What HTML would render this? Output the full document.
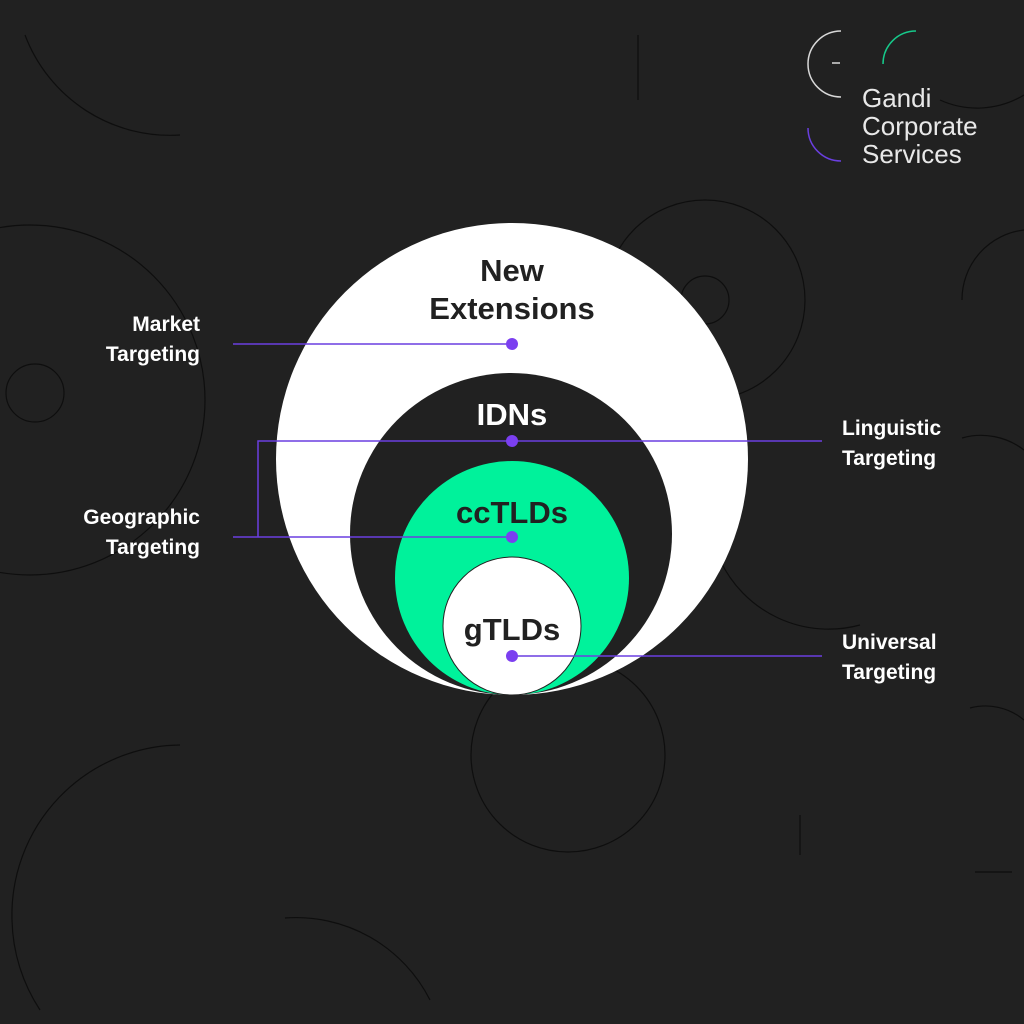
<!DOCTYPE html>
<html><head><meta charset="utf-8"><style>
html,body{margin:0;padding:0;background:#212121;}
svg{display:block}
text{font-family:"Liberation Sans","DejaVu Sans",sans-serif}
</style></head><body>
<svg width="1024" height="1024" viewBox="0 0 1024 1024" xmlns="http://www.w3.org/2000/svg">
<rect width="1024" height="1024" fill="#212121"/>
<g fill="none" stroke="#0e0e0e" stroke-width="1.2">
<path d="M25 35 A155 155 0 0 0 180 135"/>
<line x1="638" y1="35" x2="638" y2="100"/>
<circle cx="30" cy="400" r="175"/>
<circle cx="35" cy="393" r="29"/>
<circle cx="705" cy="300" r="24"/>
<circle cx="705" cy="300" r="100"/>
<path d="M1024 230 A70 70 0 0 0 962 300"/>
<path d="M720 560 A120 120 0 0 0 860 625"/>
<path d="M962 438 A70 70 0 0 1 1024 450"/>
<circle cx="568" cy="755" r="97"/>
<path d="M180 745 A170 170 0 0 0 12 920 A170 170 0 0 0 40 1010"/>
<path d="M285 918 A150 150 0 0 1 430 1000"/>
<line x1="800" y1="815" x2="800" y2="855"/>
<line x1="975" y1="872" x2="1012" y2="872"/>
<path d="M970 708 A60 60 0 0 1 1024 720"/>
<path d="M940 100 A90 90 0 0 0 1024 95"/>
</g>
<!-- logo -->
<path d="M841 31 A33 33 0 0 0 841 97" fill="none" stroke="#d8d8d8" stroke-width="1.5"/>
<line x1="832" y1="63" x2="840" y2="63" stroke="#d8d8d8" stroke-width="1.5"/>
<path d="M916 31 A33 33 0 0 0 883 64" fill="none" stroke="#16c98a" stroke-width="1.5"/>
<path d="M808 128 A33 33 0 0 0 841 161" fill="none" stroke="#6a3fe0" stroke-width="1.5"/>
<g fill="#e8e8e8" font-size="26" font-weight="300">
<text x="862" y="107">Gandi</text>
<text x="862" y="135">Corporate</text>
<text x="862" y="163">Services</text>
</g>
<!-- circles -->
<circle cx="512" cy="459" r="236" fill="#ffffff"/>
<circle cx="511" cy="534" r="161" fill="#212121"/>
<circle cx="512" cy="578" r="117" fill="#00f29b"/>
<circle cx="512" cy="626" r="69" fill="#ffffff" stroke="#212121" stroke-width="1"/>
<g font-weight="bold" text-anchor="middle" font-size="31">
<text x="512" y="281" fill="#212121">New</text>
<text x="512" y="319" fill="#212121">Extensions</text>
<text x="512" y="425" fill="#ffffff">IDNs</text>
<text x="512" y="523" fill="#212121">ccTLDs</text>
<text x="512" y="640" fill="#212121">gTLDs</text>
</g>
<!-- connectors -->
<g stroke="#6a3fe0" stroke-width="1.5" fill="none">
<line x1="233" y1="344" x2="512" y2="344"/>
<polyline points="822,441 258,441 258,537"/>
<line x1="233" y1="537" x2="512" y2="537"/>
<line x1="512" y1="656" x2="822" y2="656"/>
</g>
<g fill="#7b3ff0">
<circle cx="512" cy="344" r="6"/>
<circle cx="512" cy="441" r="6"/>
<circle cx="512" cy="537" r="6"/>
<circle cx="512" cy="656" r="6"/>
</g>
<g fill="#ffffff" font-size="21" font-weight="bold">
<text x="200" y="331" text-anchor="end">Market</text>
<text x="200" y="361" text-anchor="end">Targeting</text>
<text x="200" y="524" text-anchor="end">Geographic</text>
<text x="200" y="554" text-anchor="end">Targeting</text>
<text x="842" y="435">Linguistic</text>
<text x="842" y="465">Targeting</text>
<text x="842" y="649">Universal</text>
<text x="842" y="679">Targeting</text>
</g>
</svg>
</body></html>
